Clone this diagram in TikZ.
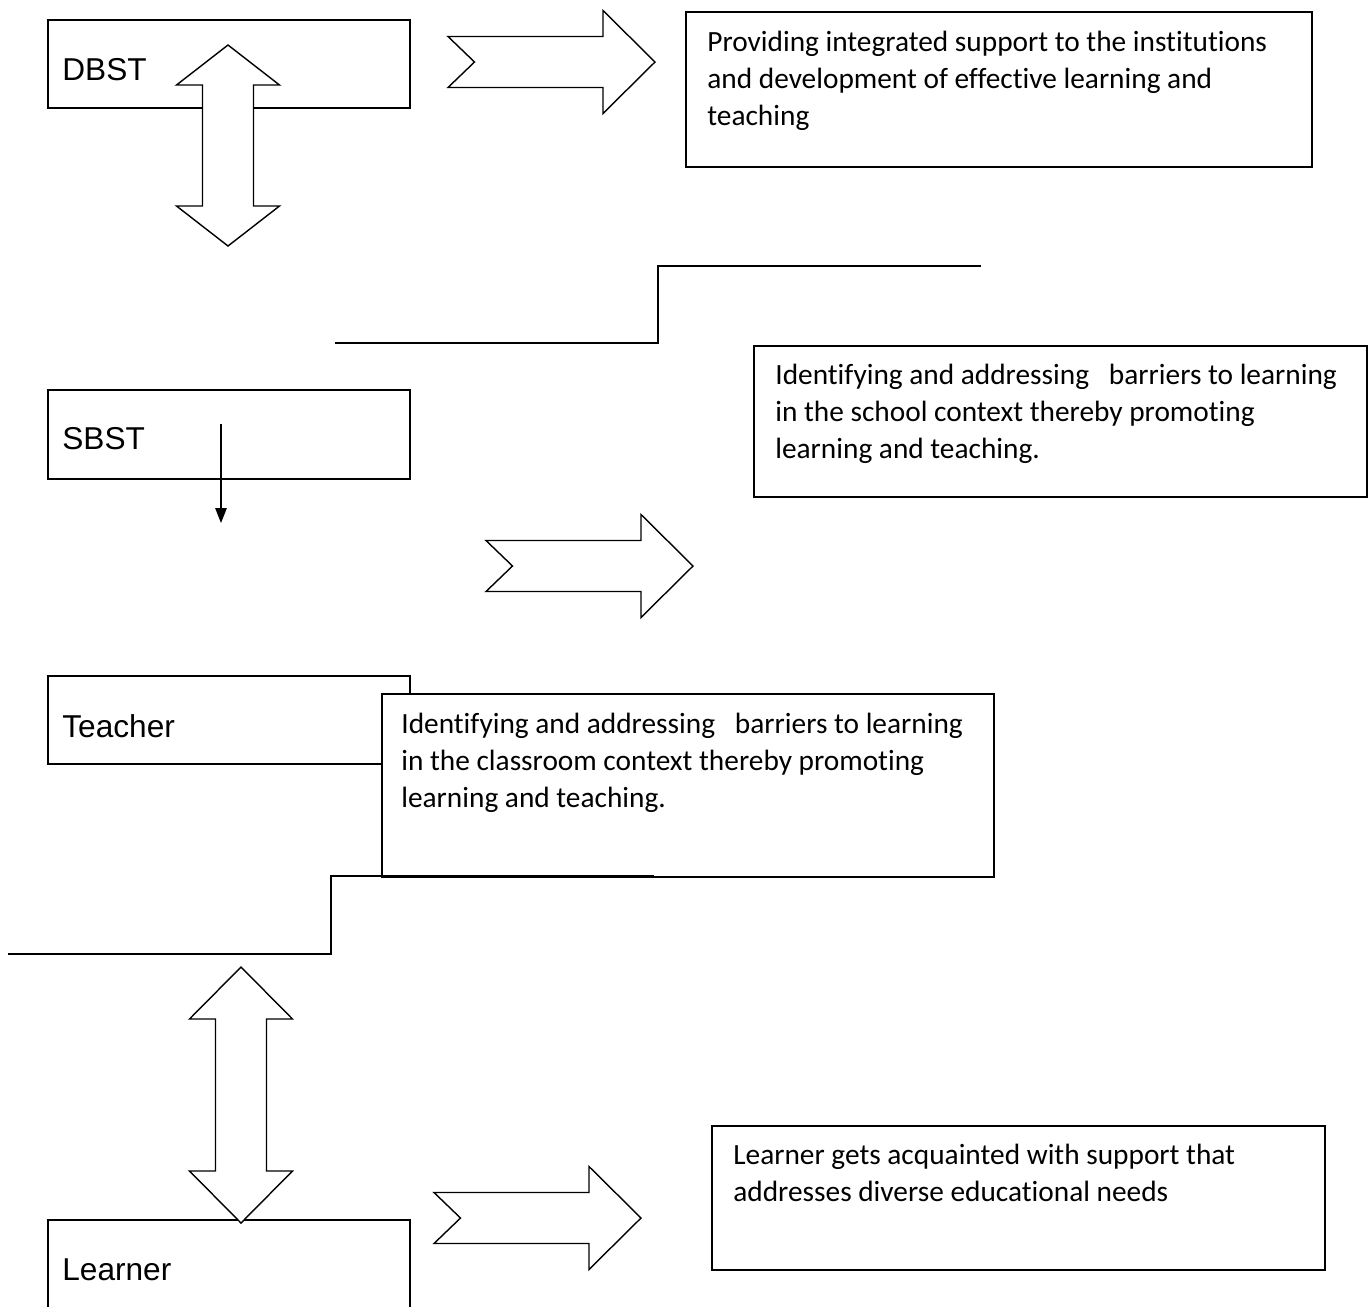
\documentclass[tikz,border=0pt]{standalone}
\usepackage{fontspec}
\setmainfont{Carlito}[Ligatures=NoCommon]
\newfontfamily\labelfont{Liberation Sans}
\usetikzlibrary{arrows.meta}

\begin{document}
\begin{tikzpicture}[x=.02cm, y=-.02cm,
	box/.style={draw, line width=1.1pt, fill=white, inner sep=0pt, anchor=north west},
	blockarrow/.style={draw, fill=white, line width=.8pt, line join=miter},
	stepline/.style={line width=1.2pt},
	thinarrow/.style={line width=.8pt, -{Triangle[length=8.5pt,width=6.5pt]}},
	boxtext/.style={anchor=north west, align=left, inner sep=0pt, font=\fontsize{16.7}{21}\selectfont},
	lbl/.style={anchor=west, inner sep=0pt, font=\labelfont\fontsize{18}{21}\selectfont}]
	\useasboundingbox (0,0) rectangle (1372,1306);
	\clip (0,0) rectangle (1372,1306);
	%left boxes
	\node[box, minimum width=7.24cm, minimum height=1.76cm] (dbst) at (47,19) {};
	\node[box, minimum width=7.24cm, minimum height=1.78cm] (sbst) at (47,389) {};
	\node[box, minimum width=7.24cm, minimum height=1.76cm] (teacher) at (47,675) {};
	\node[box, minimum width=7.24cm, minimum height=2.4cm] (learner) at (47,1219) {};
	\node[lbl] (dbst label) at (62,70) {DBST};
	\node[lbl] (sbst label) at (62,439) {SBST};
	\node[lbl] (teacher label) at (62,726) {Teacher};
	\node[lbl] (learner label) at (62,1270) {Learner};
	%right boxes
	\node[box, minimum width=12.52cm, minimum height=3.10cm] (support) at (685,11) {};
	\node[box, minimum width=12.26cm, minimum height=3.02cm] (school) at (753,345) {};
	\node[box, minimum width=12.24cm, minimum height=3.66cm] (classroom) at (381,693) {};
	\node[box, minimum width=12.26cm, minimum height=2.88cm] (acquaint) at (711,1125) {};
	\node[boxtext] (support text) at (707,31)
	{Providing integrated support to the institutions\\
		and development of effective learning and\\
		teaching};
	\node[boxtext] (school text) at (775,364)
	{Identifying and addressing\ \ \ barriers to learning\\
		in the school context thereby promoting\\
		learning and teaching.};
	\node[boxtext] (classroom text) at (401,713)
	{Identifying and addressing\ \ \ barriers to learning\\
		in the classroom context thereby promoting\\
		learning and teaching.};
	\node[boxtext] (acquaint text) at (733,1144)
	{Learner gets acquainted with support that\\
		addresses diverse educational needs};
	%steps
	\draw[stepline] (335,343) -- (658,343) -- (658,266) -- (981,266);
	\draw[stepline] (8,954) -- (331,954) -- (331,876) -- (654,876);
	%arrows
	\coordinate (sbst arrow start) at (221,424);
	\coordinate (sbst arrow end) at (221,523);
	\draw[thinarrow] (sbst arrow start) -- (sbst arrow end);
	\foreach \ax/\ay in {448/62, 486/566, 434/1218}
	\draw[blockarrow, shift={(\ax,\ay)}] (0,-25.5) -- (155,-25.5) -- (155,-51.5)
	-- (207,0) -- (155,51.5) -- (155,25.5) -- (0,25.5) -- (26.5,0) -- cycle;
	\foreach \cx/\ta/\tb/\hd in {228/45/246/40, 241/967/1223/52}
	\draw[blockarrow] (\cx,\ta) -- (\cx+51.5,\ta+\hd) -- (\cx+25.5,\ta+\hd)
	-- (\cx+25.5,\tb-\hd) -- (\cx+51.5,\tb-\hd) -- (\cx,\tb) -- (\cx-51.5,\tb-\hd)
	-- (\cx-25.5,\tb-\hd) -- (\cx-25.5,\ta+\hd) -- (\cx-51.5,\ta+\hd) -- cycle;
\end{tikzpicture}
\end{document}
